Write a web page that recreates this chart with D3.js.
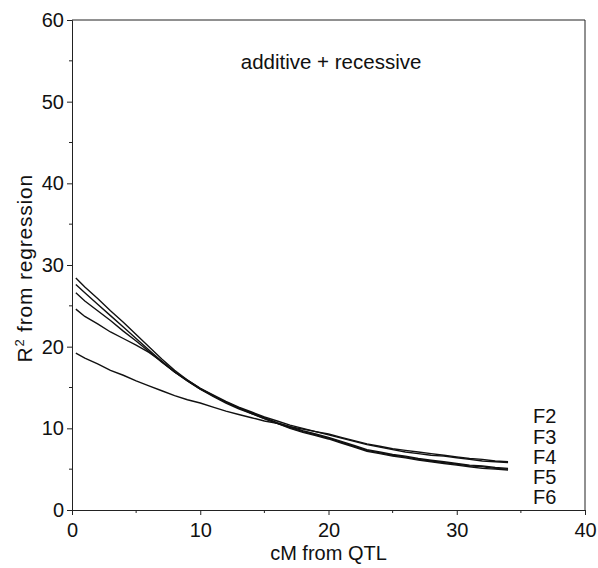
<!DOCTYPE html>
<html>
<head>
<meta charset="utf-8">
<script src="https://cdn.jsdelivr.net/npm/d3@7"></script>
<style>
  body { margin: 0; background: #fff; }
  text { font-family: "Liberation Sans", Arial, sans-serif; fill: #111; }
</style>
</head>
<body>
<div id="chart"></div>
<script>
// cM positions sampled along the curves
var cM = [0.3, 1, 2, 3, 4, 5, 6, 7, 8, 9, 10, 11, 12, 13, 14, 15, 16, 17, 18, 19, 20,
          21, 22, 23, 24, 25, 26, 27, 28, 29, 30, 31, 32, 33, 34];

// R2 values, one array per generation
var F2 = [19.2, 18.6, 17.9, 17.1, 16.5, 15.8, 15.2, 14.6, 14.0, 13.5, 13.1, 12.6, 12.1, 11.7, 11.3, 10.9, 10.6, 10.2, 9.9, 9.6, 9.3,
          8.9, 8.5, 8.1, 7.8, 7.5, 7.3, 7.1, 6.9, 6.7, 6.5, 6.3, 6.2, 6.0, 5.9];
var F3 = [24.6, 23.7, 22.8, 21.8, 21.0, 20.2, 19.3, 18.2, 16.9, 15.9, 14.9, 14.1, 13.3, 12.6, 12.0, 11.4, 10.9, 10.4, 10.0, 9.6, 9.2,
          8.8, 8.4, 8.0, 7.7, 7.4, 7.1, 6.9, 6.7, 6.6, 6.4, 6.2, 6.0, 5.9, 5.8];
var F4 = [26.6, 25.6, 24.4, 23.2, 21.9, 20.7, 19.4, 18.1, 16.9, 15.8, 14.8, 14.0, 13.2, 12.5, 11.9, 11.3, 10.7, 10.2, 9.7, 9.3, 8.9,
          8.4, 7.9, 7.4, 7.1, 6.8, 6.6, 6.3, 6.1, 5.9, 5.7, 5.5, 5.4, 5.2, 5.1];
var F5 = [27.6, 26.6, 25.2, 23.8, 22.4, 21.0, 19.6, 18.2, 16.9, 15.8, 14.8, 13.9, 13.1, 12.4, 11.8, 11.2, 10.6, 10.1, 9.6, 9.2, 8.8,
          8.3, 7.8, 7.3, 7.0, 6.7, 6.5, 6.2, 6.0, 5.8, 5.6, 5.4, 5.3, 5.1, 5.0];
var F6 = [28.4, 27.3, 25.9, 24.4, 23.0, 21.5, 20.0, 18.5, 17.1, 15.9, 14.9, 14.0, 13.2, 12.5, 11.8, 11.2, 10.6, 10.0, 9.5, 9.1, 8.7,
          8.2, 7.7, 7.2, 6.9, 6.6, 6.4, 6.1, 5.9, 5.7, 5.5, 5.3, 5.1, 5.0, 4.9];

var seriesNames = ["F2", "F3", "F4", "F5", "F6"];
var seriesValues = [F2, F3, F4, F5, F6];

var xTicks = [0, 10, 20, 30, 40];
var yTicks = [0, 10, 20, 30, 40, 50, 60];
var xMinor = [5, 15, 25, 35];
var yMinor = [5, 15, 25, 35, 45, 55];

var margin = { top: 20, right: 13, bottom: 58, left: 72 },
    width = 598 - margin.left - margin.right,
    height = 568 - margin.top - margin.bottom;

var svg = d3.select("#chart")
    .append("svg")
    .attr("width", 598)
    .attr("height", 568)
    .append("g")
    .attr("transform", "translate(" + margin.left + "," + margin.top + ")");

var x = d3.scaleLinear().domain([0, 40]).range([0, width]);
var y = d3.scaleLinear().domain([0, 60]).range([height, 0]);

// frame (top and right)
svg.append("path")
    .attr("d", "M0,0H" + width + "V" + height)
    .attr("fill", "none")
    .attr("stroke", "#222")
    .attr("stroke-width", 1);

// X axis
var xAxis = svg.append("g")
    .attr("transform", "translate(0," + height + ")")
    .call(d3.axisBottom(x).tickValues(xTicks).tickSize(5).tickPadding(8));
xAxis.append("g").selectAll("line")
    .data(xMinor).enter().append("line")
    .attr("x1", function (d) { return x(d); })
    .attr("x2", function (d) { return x(d); })
    .attr("y1", 0).attr("y2", 3)
    .attr("stroke", "#222");

// Y axis
var yAxis = svg.append("g")
    .call(d3.axisLeft(y).tickValues(yTicks).tickSize(5).tickPadding(3));
yAxis.append("g").selectAll("line")
    .data(yMinor).enter().append("line")
    .attr("y1", function (d) { return y(d); })
    .attr("y2", function (d) { return y(d); })
    .attr("x1", 0).attr("x2", -3)
    .attr("stroke", "#222");

svg.selectAll(".domain").attr("stroke", "#222");
svg.selectAll(".tick line").attr("stroke", "#222");
svg.selectAll(".tick text")
    .style("font-family", "'Liberation Sans', Arial, sans-serif")
    .style("font-size", "20px")
    .attr("fill", "#111");

// Lines
var line = d3.line()
    .x(function (d, i) { return x(cM[i]); })
    .y(function (d) { return y(d); });

svg.selectAll(".curve")
    .data(seriesValues)
    .enter()
    .append("path")
    .attr("class", "curve")
    .attr("fill", "none")
    .attr("stroke", "#111")
    .attr("stroke-width", 1.4)
    .attr("d", line);

// series labels stacked at right
svg.selectAll(".lab")
    .data(seriesNames)
    .enter()
    .append("text")
    .attr("class", "lab")
    .attr("x", x(35.95))
    .attr("y", function (d, i) { return y(10.6) + i * 20.2; })
    .style("font-size", "20px")
    .text(function (d) { return d; });

// title inside plot
svg.append("text")
    .attr("x", x(20.2))
    .attr("y", y(54.0))
    .attr("text-anchor", "middle")
    .style("font-size", "20.5px")
    .text("additive + recessive");

// axis titles
svg.append("text")
    .attr("x", x(20))
    .attr("y", height + 50)
    .attr("text-anchor", "middle")
    .style("font-size", "20px")
    .text("cM from QTL");

var yl = svg.append("text")
    .attr("transform", "translate(-40," + y(29.6) + ")rotate(-90)")
    .attr("text-anchor", "middle")
    .style("font-size", "21px")
    .style("letter-spacing", "0.8px");
yl.append("tspan").text("R");
yl.append("tspan").attr("dy", -8).style("font-size", "13px").text("2");
yl.append("tspan").attr("dy", 8).text(" from regression");
</script>
</body>
</html>
